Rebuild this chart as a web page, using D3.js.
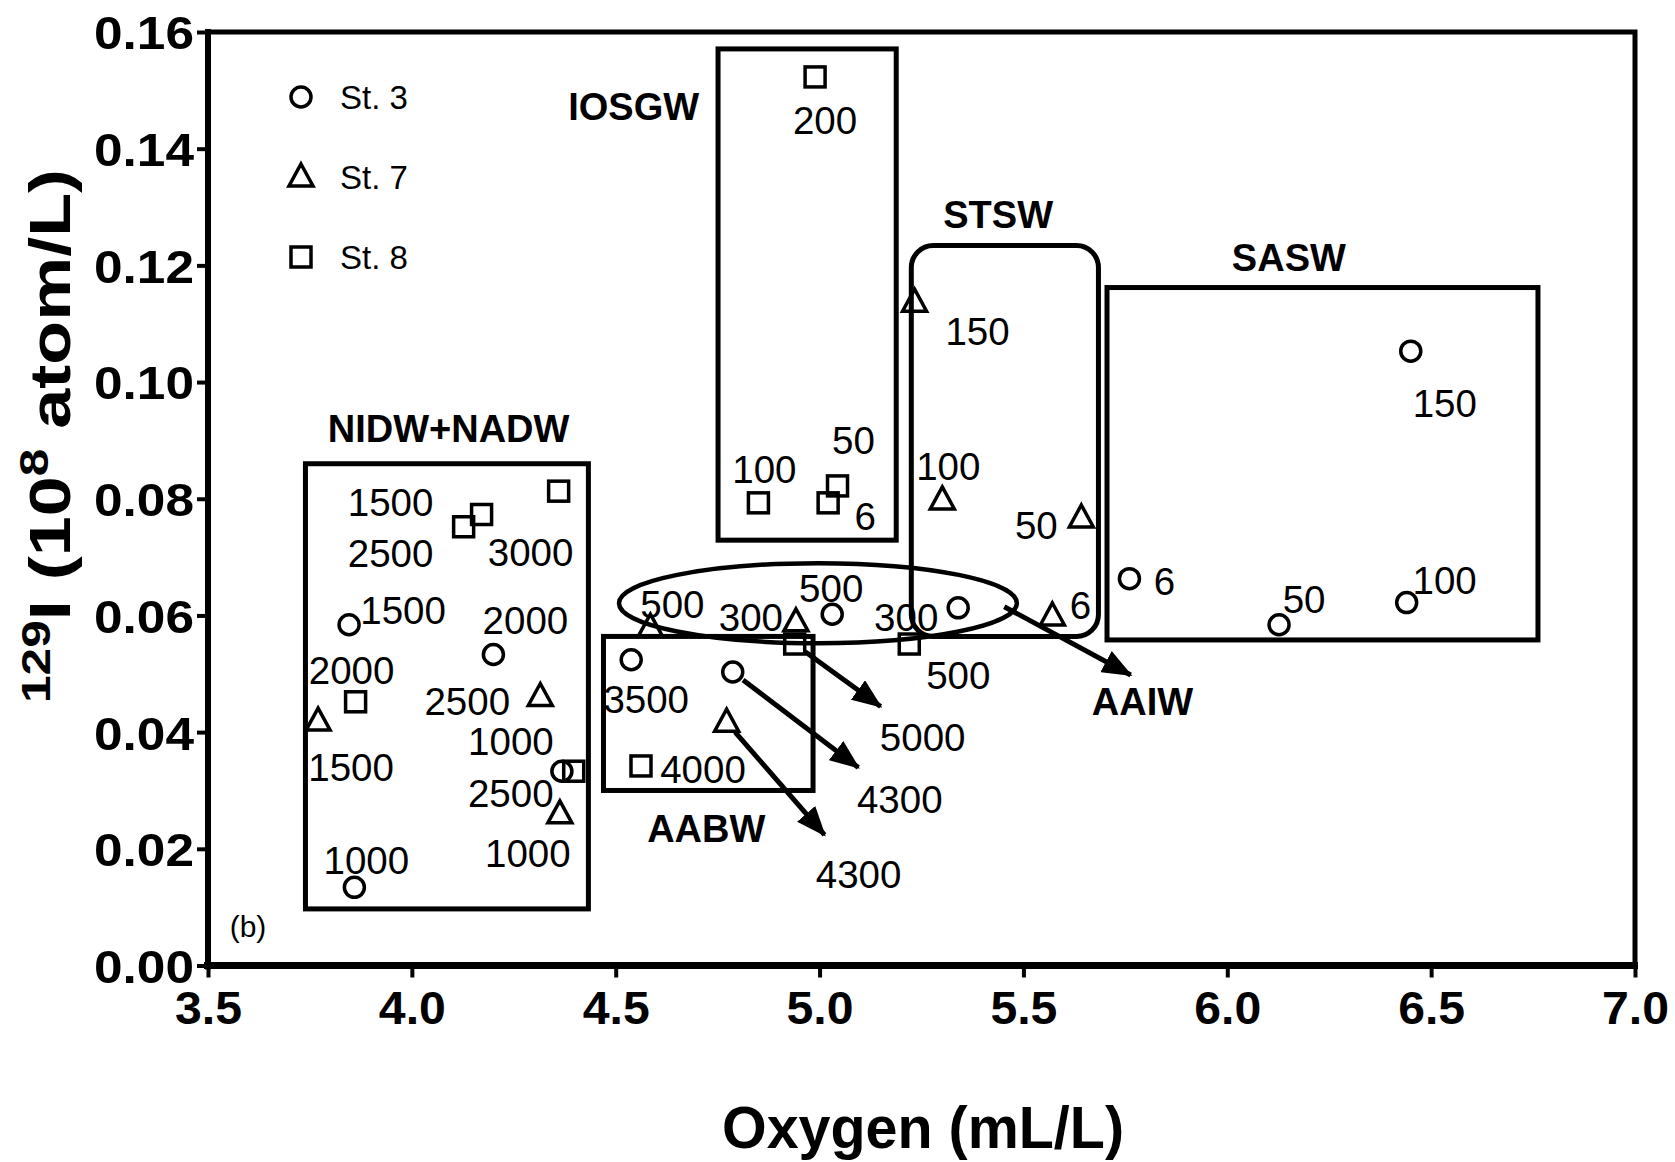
<!DOCTYPE html>
<html>
<head>
<meta charset="utf-8">
<script src="https://cdn.jsdelivr.net/npm/d3@7"></script>
<style>
  html, body { margin: 0; padding: 0; background: #fff; }
  svg { display: block; font-family: "Liberation Sans", Arial, Helvetica, sans-serif; }
</style>
</head>
<body>
<svg id="chart" width="1675" height="1162"></svg>
<script>
// ---- Station 3 (circles): oxygen (mL/L), 129I (1e8 atom/L), sampling depth (m)
const st3Oxygen = [6.45, 6.44, 6.127, 5.76, 5.34, 5.031, 4.538, 4.787, 3.846, 4.20, 4.368, 3.859];
const st3Iodine = [0.1053, 0.0622, 0.0584, 0.0663, 0.0613, 0.0602, 0.0524, 0.0503, 0.0584, 0.0533, 0.0333, 0.0134];
const st3Depth  = ["150", "100", "50", "6", "300", "500", "3500", "4300", "1500", "2000", "1000", "1000"];

// ---- Station 7 (triangles)
const st7Oxygen = [5.233, 5.301, 5.642, 5.571, 4.942, 4.585, 4.772, 3.77, 4.315, 4.363];
const st7Iodine = [0.1137, 0.0798, 0.0767, 0.0599, 0.0589, 0.0580, 0.0417, 0.0419, 0.0461, 0.0260];
const st7Depth  = ["150", "100", "50", "6", "300", "500", "4300", "1500", "2500", "1000"];

// ---- Station 8 (squares)
const st8Oxygen = [4.989, 4.850, 5.021, 5.044, 4.939, 5.22, 4.562, 4.36, 4.127, 4.171, 3.862, 4.397];
const st8Iodine = [0.1523, 0.0793, 0.0793, 0.0822, 0.0551, 0.0551, 0.0342, 0.0813, 0.0752, 0.0773, 0.0452, 0.0333];
const st8Depth  = ["200", "100", "6", "50", "5000", "500", "4000", "3000", "2500", "1500", "2000", "2500"];

// ---- Axis ticks
const xTicks = [3.5, 4.0, 4.5, 5.0, 5.5, 6.0, 6.5, 7.0];
const yTicks = [0.00, 0.02, 0.04, 0.06, 0.08, 0.10, 0.12, 0.14, 0.16];

// ---- Water-mass regions (data units)
const regionNames = ["NIDW+NADW", "IOSGW", "STSW", "SASW", "AABW"];
const regionX0 = [3.739, 4.751, 5.225, 5.705, 4.470];
const regionX1 = [4.433, 5.188, 5.684, 6.762, 4.984];
const regionY0 = [0.0097, 0.0729, 0.0564, 0.0558, 0.0300];
const regionY1 = [0.0860, 0.1571, 0.1234, 0.1162, 0.0564];
const regionRounded = [false, false, true, false, false];
// label anchor of each region name (data units)
const regionLabelX = [4.09, 4.544, 5.438, 6.151, 4.722];
const regionLabelY = [0.0919, 0.1472, 0.1287, 0.1212, 0.0234];

// ---- AAIW ellipse (centre and half-axes, data units)
const aaiwCentre = [4.996, 0.0621];
const aaiwRadius = [0.488, 0.00686];
const aaiwArrowFrom = [5.453, 0.0615];
const aaiwArrowTo = [5.763, 0.0498];
const aaiwLabelAt = [5.792, 0.0452];

// ---- label offsets from each marker (px)
const st3LabelDx = [34, 38, 25, 35, -52, -1, 15, 167, 54, 32, -51, 12];
const st3LabelDy = [52, -22, -25, 3, 10, -26, 40, 127, -14, -34, -30, -27];
const st7LabelDx = [63, 6, -45, 28, -45, 22, 132, 33, -73, -32];
const st7LabelDy = [29, -33, 7, -11, -4, -23, 152, 46, 5, 40];
const st8LabelDx = [10, 6, 37, 16, 128, 49, 62, -28, -73, -91, -4, -63];
const st8LabelDy = [44, -33, 14, -45, 93, 31, 4, 61, 27, -12, -31, 22];

// deep samples that leave their box are traced with an arrow (index into station arrays)
const arrowPoints = [
  { station: 3, index: 7 },
  { station: 7, index: 6 },
  { station: 8, index: 4 }
];

const svg = d3.select("#chart");
const x = d3.scaleLinear().domain([3.5, 7.0]).range([208, 1635]);
const y = d3.scaleLinear().domain([0, 0.16]).range([965.5, 32]);

// arrowhead
svg.append("defs").append("marker")
  .attr("id", "head")
  .attr("markerUnits", "userSpaceOnUse")
  .attr("viewBox", "0 0 30 24")
  .attr("markerWidth", 30).attr("markerHeight", 24)
  .attr("refX", 28).attr("refY", 12)
  .attr("orient", "auto")
  .append("path").attr("d", "M0,0 L30,12 L0,24 Z").attr("fill", "#000");

// plot frame (top and right edges)
svg.append("rect")
  .attr("x", x(3.5)).attr("y", y(0.16))
  .attr("width", x(7.0) - x(3.5)).attr("height", y(0) - y(0.16))
  .attr("fill", "none").attr("stroke", "#000").attr("stroke-width", 5);

// axes
const xAxis = svg.append("g")
  .attr("transform", `translate(0,${y(0)})`)
  .call(d3.axisBottom(x).tickValues(xTicks).tickFormat(d3.format(".1f")).tickSize(12).tickPadding(13));
const yAxis = svg.append("g")
  .attr("transform", `translate(${x(3.5)},0)`)
  .call(d3.axisLeft(y).tickValues(yTicks).tickFormat(d3.format(".2f")).tickSize(11).tickPadding(3));

xAxis.select(".domain").attr("stroke-width", 7).attr("d", `M${x(3.5) - 4},0H${x(7.0) + 3}`);
yAxis.select(".domain").attr("stroke-width", 6).attr("d", `M0,${y(0) + 4}V${y(0.16) - 3}`);
svg.selectAll(".tick line").attr("stroke-width", 4);
xAxis.selectAll(".tick text")
  .attr("font-size", 47).attr("font-weight", "bold").attr("fill", "#000")
  .attr("font-family", "Liberation Sans, Arial, sans-serif")
  .attr("textLength", 67).attr("lengthAdjust", "spacingAndGlyphs");
yAxis.selectAll(".tick text")
  .attr("font-size", 47).attr("font-weight", "bold").attr("fill", "#000")
  .attr("font-family", "Liberation Sans, Arial, sans-serif")
  .attr("dy", "0.36em")
  .attr("textLength", 100).attr("lengthAdjust", "spacingAndGlyphs");

// axis titles
svg.append("text")
  .attr("x", 923).attr("y", 1148)
  .attr("text-anchor", "middle")
  .attr("font-size", 60).attr("font-weight", "bold")
  .attr("textLength", 402).attr("lengthAdjust", "spacingAndGlyphs")
  .text("Oxygen (mL/L)");

const yTitle = svg.append("text")
  .attr("transform", "translate(70,436) rotate(-90)")
  .attr("text-anchor", "middle")
  .attr("font-size", 58).attr("font-weight", "bold")
  .attr("textLength", 534).attr("lengthAdjust", "spacingAndGlyphs");
yTitle.append("tspan").attr("font-size", 40).attr("dy", -20).text("129");
yTitle.append("tspan").attr("dy", 20).text("I (10");
yTitle.append("tspan").attr("font-size", 40).attr("dy", -22).text("8");
yTitle.append("tspan").attr("dy", 22).text(" atom/L)");

// regions
regionNames.forEach((name, i) => {
  svg.append("rect")
    .attr("x", x(regionX0[i])).attr("y", y(regionY1[i]))
    .attr("width", x(regionX1[i]) - x(regionX0[i]))
    .attr("height", y(regionY0[i]) - y(regionY1[i]))
    .attr("rx", regionRounded[i] ? 22 : 0)
    .attr("fill", "none").attr("stroke", "#000").attr("stroke-width", 5);
  svg.append("text")
    .attr("x", x(regionLabelX[i])).attr("y", y(regionLabelY[i]))
    .attr("text-anchor", "middle").attr("dominant-baseline", "central")
    .attr("font-size", 38).attr("font-weight", "bold")
    .text(name);
});

// AAIW ellipse + arrow
svg.append("ellipse")
  .attr("cx", x(aaiwCentre[0])).attr("cy", y(aaiwCentre[1]))
  .attr("rx", x(aaiwCentre[0] + aaiwRadius[0]) - x(aaiwCentre[0]))
  .attr("ry", y(aaiwCentre[1] - aaiwRadius[1]) - y(aaiwCentre[1]))
  .attr("fill", "none").attr("stroke", "#000").attr("stroke-width", 4.5);
svg.append("line")
  .attr("x1", x(aaiwArrowFrom[0])).attr("y1", y(aaiwArrowFrom[1]))
  .attr("x2", x(aaiwArrowTo[0])).attr("y2", y(aaiwArrowTo[1]))
  .attr("stroke", "#000").attr("stroke-width", 5).attr("marker-end", "url(#head)");
svg.append("text")
  .attr("x", x(aaiwLabelAt[0])).attr("y", y(aaiwLabelAt[1]))
  .attr("text-anchor", "middle").attr("dominant-baseline", "central")
  .attr("font-size", 38).attr("font-weight", "bold")
  .text("AAIW");

// marker shapes
const shapes = {
  circle: g => g.append("circle").attr("r", 10),
  triangle: g => g.append("path").attr("d", "M0,-13 L12,9 L-12,9 Z"),
  square: g => g.append("rect").attr("x", -10).attr("y", -10).attr("width", 20).attr("height", 20)
};

const stations = [
  { id: 3, shape: "circle", ox: st3Oxygen, io: st3Iodine, depth: st3Depth, dx: st3LabelDx, dy: st3LabelDy },
  { id: 7, shape: "triangle", ox: st7Oxygen, io: st7Iodine, depth: st7Depth, dx: st7LabelDx, dy: st7LabelDy },
  { id: 8, shape: "square", ox: st8Oxygen, io: st8Iodine, depth: st8Depth, dx: st8LabelDx, dy: st8LabelDy }
];

// arrows for deep samples
arrowPoints.forEach(a => {
  const s = stations.find(t => t.id === a.station);
  const px = x(s.ox[a.index]), py = y(s.io[a.index]);
  const lx = px + s.dx[a.index], ly = py + s.dy[a.index];
  const ang = Math.atan2(ly - py, lx - px);
  svg.append("line")
    .attr("x1", px + 13 * Math.cos(ang)).attr("y1", py + 13 * Math.sin(ang))
    .attr("x2", lx - 52 * Math.cos(ang)).attr("y2", ly - 52 * Math.sin(ang))
    .attr("stroke", "#000").attr("stroke-width", 5).attr("marker-end", "url(#head)");
});

stations.forEach(s => {
  s.ox.forEach((o, i) => {
    const g = svg.append("g")
      .attr("transform", `translate(${x(o)},${y(s.io[i])})`)
      .attr("fill", "none").attr("stroke", "#000").attr("stroke-width", 3.5);
    shapes[s.shape](g);
    svg.append("text")
      .attr("x", x(o) + s.dx[i]).attr("y", y(s.io[i]) + s.dy[i])
      .attr("text-anchor", "middle").attr("dominant-baseline", "central")
      .attr("font-size", 38.5)
      .text(s.depth[i]);
  });
});

// legend
const legendItems = [
  { shape: "circle", label: "St. 3" },
  { shape: "triangle", label: "St. 7" },
  { shape: "square", label: "St. 8" }
];
legendItems.forEach((d, i) => {
  const cy = 97 + i * 80;
  const g = svg.append("g")
    .attr("transform", `translate(301,${cy})`)
    .attr("fill", "none").attr("stroke", "#000").attr("stroke-width", 3.5);
  shapes[d.shape](g);
  svg.append("text")
    .attr("x", 340).attr("y", cy)
    .attr("dominant-baseline", "central")
    .attr("font-size", 33)
    .text(d.label);
});

// panel tag
svg.append("text")
  .attr("x", 248).attr("y", 926)
  .attr("text-anchor", "middle").attr("dominant-baseline", "central")
  .attr("font-size", 30)
  .text("(b)");
</script>
</body>
</html>
